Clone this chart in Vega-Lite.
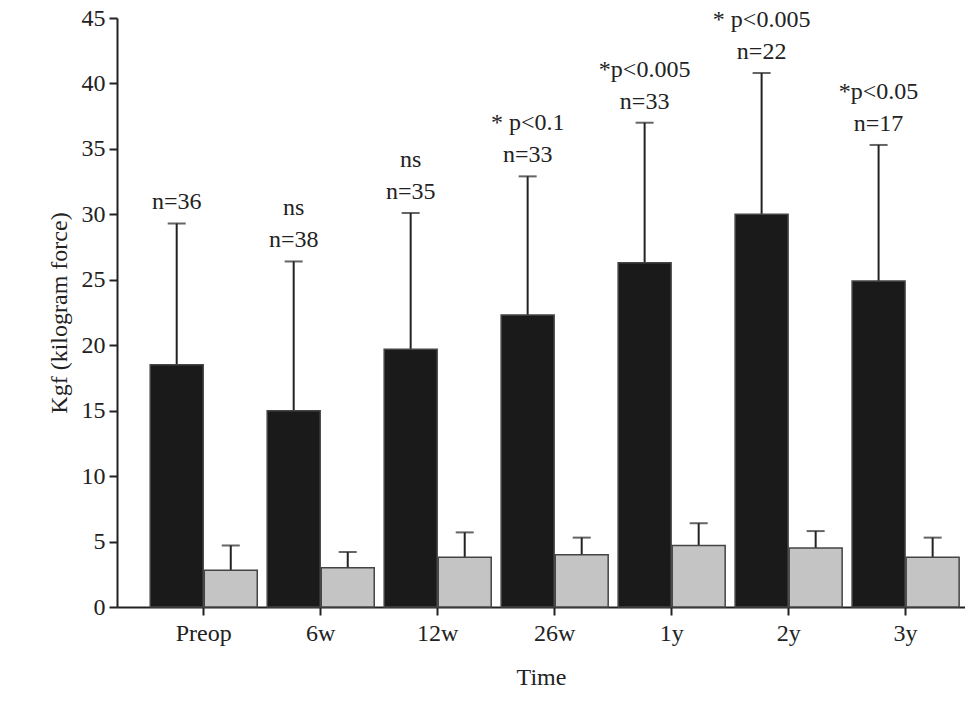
{
  "$schema": "https://vega.github.io/schema/vega-lite/v6.json",
  "autosize": "none",
  "padding": {"left": 117, "top": 18, "right": 0, "bottom": 116},
  "width": 848,
  "height": 589,
  "background": "white",
  "config": {"font": "Liberation Serif", "view": {"stroke": null},
    "axis": {"labelFont": "Liberation Serif", "titleFont": "Liberation Serif"},
    "text": {"font": "Liberation Serif"}},
  "data": {"values": [
    {"time": "Preop", "grp": "a", "mean": 18.5, "top": 29.3, "l1": "", "l2": "n=36"},
    {"time": "6w", "grp": "a", "mean": 15.0, "top": 26.4, "l1": "ns", "l2": "n=38"},
    {"time": "12w", "grp": "a", "mean": 19.7, "top": 30.1, "l1": "ns", "l2": "n=35"},
    {"time": "26w", "grp": "a", "mean": 22.3, "top": 32.9, "l1": "* p<0.1", "l2": "n=33"},
    {"time": "1y", "grp": "a", "mean": 26.3, "top": 37.0, "l1": "*p<0.005", "l2": "n=33"},
    {"time": "2y", "grp": "a", "mean": 30.0, "top": 40.8, "l1": "* p<0.005", "l2": "n=22"},
    {"time": "3y", "grp": "a", "mean": 24.9, "top": 35.3, "l1": "*p<0.05", "l2": "n=17"},
    {"time": "Preop", "grp": "b", "mean": 2.8, "top": 4.7},
    {"time": "6w", "grp": "b", "mean": 3.0, "top": 4.2},
    {"time": "12w", "grp": "b", "mean": 3.8, "top": 5.7},
    {"time": "26w", "grp": "b", "mean": 4.0, "top": 5.3},
    {"time": "1y", "grp": "b", "mean": 4.7, "top": 6.4},
    {"time": "2y", "grp": "b", "mean": 4.5, "top": 5.8},
    {"time": "3y", "grp": "b", "mean": 3.8, "top": 5.3}
  ]},
  "encoding": {
    "x": {"field": "time", "type": "nominal", "sort": null,
      "scale": {"paddingInner": 0.085, "paddingOuter": 0.167, "align": 0.85},
      "axis": {"title": "Time", "labelAngle": 0, "labelFontSize": 24, "titleFontSize": 24, "labelColor": "#222", "titleColor": "#222",
        "domainColor": "#222", "domainWidth": 2, "tickColor": "#222", "tickWidth": 2, "tickSize": 8, "labelPadding": 6, "titlePadding": 20, "titleFontWeight": "normal"}},
    "xOffset": {"field": "grp", "type": "nominal", "scale": {"paddingInner": 0.02}}
  },
  "layer": [
    {"mark": {"type": "rule", "color": "#222", "strokeWidth": 2},
     "encoding": {"y": {"field": "mean", "type": "quantitative"}, "y2": {"field": "top"}}},
    {"mark": {"type": "tick", "orient": "horizontal", "color": "#222", "thickness": 2, "size": 18},
     "encoding": {"y": {"field": "top", "type": "quantitative"}}},
    {"mark": {"type": "bar", "stroke": "#444", "strokeWidth": 1.5},
     "encoding": {
       "y": {"field": "mean", "type": "quantitative",
         "scale": {"domain": [0, 45]},
         "axis": {"title": "Kgf (kilogram force)", "values": [0,5,10,15,20,25,30,35,40,45], "grid": false,
           "labelFontSize": 24, "titleFontSize": 24, "labelColor": "#222", "titleColor": "#222", "titleFontWeight": "normal",
           "domainColor": "#222", "domainWidth": 2, "tickColor": "#222", "tickWidth": 2, "tickSize": 8, "labelPadding": 4, "titlePadding": 10}},
       "color": {"field": "grp", "type": "nominal", "scale": {"domain": ["a", "b"], "range": ["#1a1a1a", "#c4c4c4"]}, "legend": null}
     }},
    {"transform": [{"filter": "datum.grp == 'a'"}],
     "mark": {"type": "text", "fontSize": 24, "color": "#222", "baseline": "alphabetic", "dy": -14},
     "encoding": {"y": {"field": "top", "type": "quantitative"}, "text": {"field": "l2"}}},
    {"transform": [{"filter": "datum.grp == 'a'"}],
     "mark": {"type": "text", "fontSize": 24, "color": "#222", "baseline": "alphabetic", "dy": -46},
     "encoding": {"y": {"field": "top", "type": "quantitative"}, "text": {"field": "l1"}}}
  ]
}
